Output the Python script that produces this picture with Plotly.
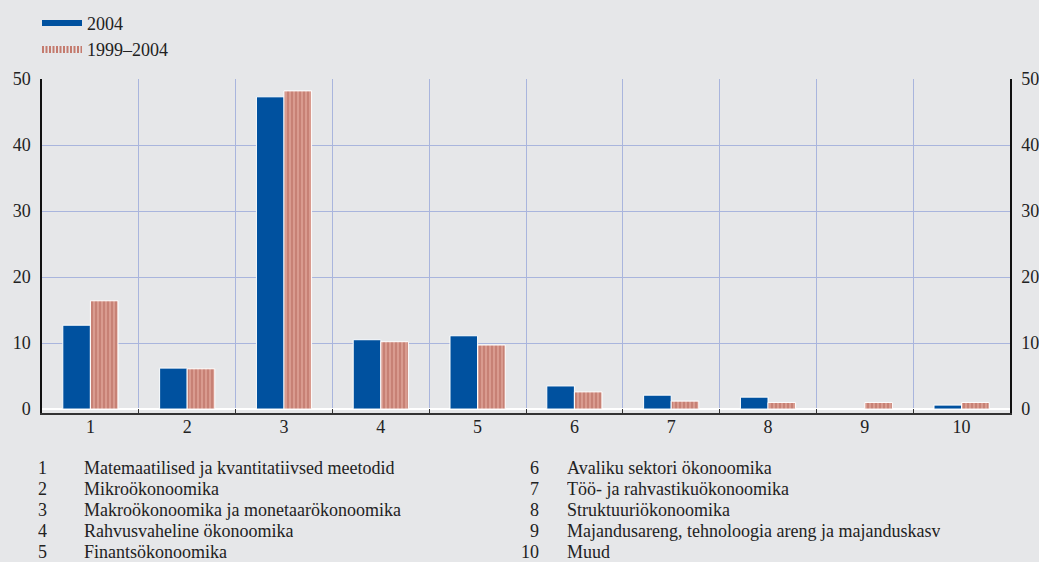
import plotly.graph_objects as go

categories = ["1", "2", "3", "4", "5", "6", "7", "8", "9", "10"]
v2004 = [12.7, 6.2, 47.3, 10.5, 11.1, 3.5, 2.1, 1.8, 0.0, 0.6]
v1999_2004 = [16.4, 6.1, 48.2, 10.2, 9.7, 2.6, 1.2, 1.0, 1.0, 1.0]
series_names = ["2004", "1999–2004"]
category_names = [
    "Matemaatilised ja kvantitatiivsed meetodid",
    "Mikroökonoomika",
    "Makroökonoomika ja monetaarökonoomika",
    "Rahvusvaheline ökonoomika",
    "Finantsökonoomika",
    "Avaliku sektori ökonoomika",
    "Töö- ja rahvastikuökonoomika",
    "Struktuuriökonoomika",
    "Majandusareng, tehnoloogia areng ja majanduskasv",
    "Muud",
]
y_ticks = [0, 10, 20, 30, 40, 50]

FONT = "Liberation Serif, Times New Roman, serif"
FS = 18
BG = "#e6e7e9"
GRID = "#a9b5dd"
BLUE = "#00519f"
RED_BG = "#d99b8f"
RED_FG = "#b5675b"

fig = go.Figure()
fig.add_trace(go.Bar(
    x=categories, y=v2004, name=series_names[0], showlegend=False,
    marker=dict(color=BLUE, line=dict(color="white", width=1)),
))
fig.add_trace(go.Bar(
    x=categories, y=v1999_2004, name=series_names[1], showlegend=False,
    marker=dict(color=RED_BG, line=dict(color="white", width=1),
                pattern=dict(shape="|", fgcolor=RED_FG, bgcolor=RED_BG,
                             size=4, solidity=0.5)),
))
# legend-only entries (wide swatches like the reference)
fig.add_trace(go.Scatter(x=[None], y=[None], mode="lines", name=series_names[0],
                         line=dict(color=BLUE, width=6)))
fig.add_trace(go.Scatter(x=[None], y=[None], mode="lines", name=series_names[1],
                         line=dict(color="#c47b6e", width=7, dash="2px,1.5px")))
# invisible trace to carry the right-hand axis
fig.add_trace(go.Scatter(x=categories, y=v2004, yaxis="y2", mode="markers",
                         marker=dict(opacity=0), showlegend=False, hoverinfo="skip"))

fig.update_layout(
    width=1039, height=562,
    margin=dict(l=42, r=29, t=79, b=149, autoexpand=False),
    paper_bgcolor=BG, plot_bgcolor=BG,
    barmode="group", bargap=0.43, bargroupgap=0.0,
    font=dict(family=FONT, size=FS, color="#222"),
    showlegend=True,
    legend=dict(x=(37 - 42) / 968.0, y=1.222, xanchor="left", yanchor="top",
                bgcolor="rgba(0,0,0,0)", font=dict(family=FONT, size=FS, color="#222"),
                tracegroupgap=0, itemwidth=40),
    xaxis=dict(
        type="category", tickson="boundaries", showgrid=True, gridcolor=GRID, gridwidth=1,
        ticks="inside", ticklen=4, tickcolor="#333", tickwidth=1,
        showline=True, linecolor="#333", linewidth=1.5,
        tickfont=dict(family=FONT, size=FS, color="#222"), ticklabelstandoff=-3,
        range=[-0.5, 9.5],
    ),
    yaxis=dict(
        range=[-0.6, 50], tickvals=y_ticks, showgrid=True, gridcolor=GRID, gridwidth=1,
        zeroline=True, zerolinecolor="white", zerolinewidth=2,
        showline=True, linecolor="#111", linewidth=1.5, ticks="",
        tickfont=dict(family=FONT, size=FS, color="#222"), ticklabelstandoff=6,
    ),
    yaxis2=dict(
        range=[-0.6, 50], tickvals=y_ticks, overlaying="y", side="right",
        showgrid=False, zeroline=False, showline=True, linecolor="#111", linewidth=1.5,
        ticks="", tickfont=dict(family=FONT, size=FS, color="#222"), ticklabelstandoff=6,
    ),
)

# category key below the chart
plot_h = 334.0
line_px = 21.2
first_py = 467.5
for i, name in enumerate(category_names):
    col = i // 5
    row = i % 5
    py = first_py + row * line_px
    yp = (413.0 - py) / plot_h
    num_x = (49 - 42) / 968.0 if col == 0 else (541 - 42) / 968.0
    txt_x = (82 - 42) / 968.0 if col == 0 else (565 - 42) / 968.0
    fig.add_annotation(xref="paper", yref="paper", x=num_x, y=yp, text=categories[i],
                       showarrow=False, xanchor="right", yanchor="middle", height=20,
                       font=dict(family=FONT, size=FS, color="#222"))
    fig.add_annotation(xref="paper", yref="paper", x=txt_x, y=yp, text=name,
                       showarrow=False, xanchor="left", yanchor="middle", height=20,
                       font=dict(family=FONT, size=FS, color="#222"))

fig.write_html("out.html", config={"displayModeBar": False},
               post_script="document.body.style.margin='0';document.body.style.background='#e6e7e9';")
